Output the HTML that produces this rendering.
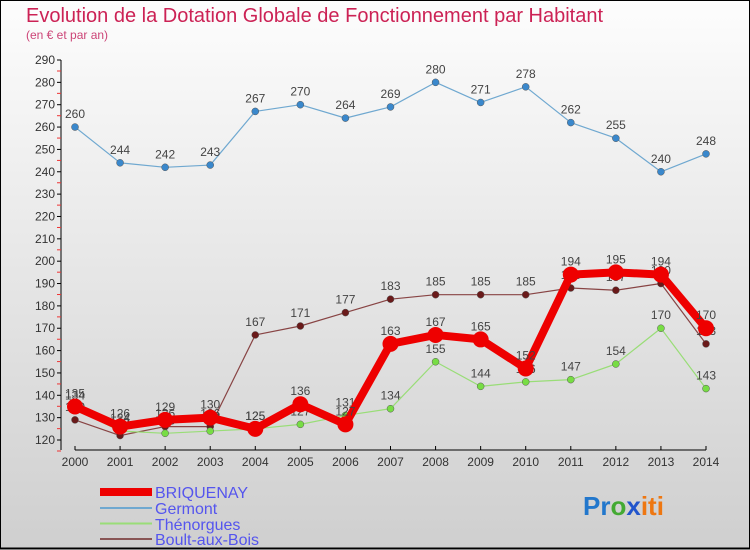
<!DOCTYPE html>
<html><head><meta charset="utf-8"><style>
body{margin:0}
svg{display:block;font-family:"Liberation Sans",sans-serif}
</style></head><body>
<svg id="c" width="750" height="550" viewBox="0 0 750 550" xmlns="http://www.w3.org/2000/svg">
<defs><linearGradient id="bg" x1="0" y1="0" x2="0" y2="1"><stop offset="0" stop-color="#fdfdfd"/><stop offset="1" stop-color="#cfcfcf"/></linearGradient></defs>
<rect x="0.5" y="0.5" width="749" height="548" fill="url(#bg)" stroke="#000"/>
<line x1="0" y1="548.5" x2="750" y2="548.5" stroke="#000" stroke-width="2"/>
<text x="26" y="22" font-size="20" fill="#cc2255">Evolution de la Dotation Globale de Fonctionnement par Habitant</text>
<text x="26" y="39" font-size="12" fill="#cc4477">(en € et par an)</text>
<g id="axes"></g><g id="series"></g>
<g>
<rect x="100" y="488" width="52" height="8" fill="#ee0000"/>
<text x="155" y="498" font-size="16" fill="#5555ee">BRIQUENAY</text>
<line x1="100" y1="508" x2="152" y2="508" stroke="#6fa8d0" stroke-width="2"/>
<text x="155" y="514" font-size="16" fill="#5555ee">Germont</text>
<line x1="100" y1="523.5" x2="152" y2="523.5" stroke="#99dd77" stroke-width="2"/>
<text x="155" y="530" font-size="16" fill="#5555ee">Thénorgues</text>
<line x1="100" y1="539" x2="152" y2="539" stroke="#885555" stroke-width="2"/>
<text x="155" y="545" font-size="16" fill="#5555ee">Boult-aux-Bois</text>
</g>
<text x="583" y="515" font-size="26" font-weight="bold"><tspan fill="#2277cc">Pr</tspan><tspan fill="#44aa33">o</tspan><tspan fill="#2255cc">x</tspan><tspan fill="#ee7711">iti</tspan></text>
</svg>
<script>
const years=[2000,2001,2002,2003,2004,2005,2006,2007,2008,2009,2010,2011,2012,2013,2014];
const yTicks=[120,130,140,150,160,170,180,190,200,210,220,230,240,250,260,270,280,290];
const briquenay=[135,126,129,130,125,136,127,163,167,165,152,194,195,194,170];
const germont=[260,244,242,243,267,270,264,269,280,271,278,262,255,240,248];
const thenorgues=[134,124,123,124,125,127,131,134,155,144,146,147,154,170,143];
const boult=[129,122,126,126,167,171,177,183,185,185,185,188,187,190,163];
const NS="http://www.w3.org/2000/svg";
const X=i=>75+i*(706-75)/(years.length-1);
const Y=v=>440-(v-120)*(380/170);
function mk(t,a,p){const e=document.createElementNS(NS,t);for(const k in a)e.setAttribute(k,a[k]);p.appendChild(e);return e;}
const ax=document.getElementById('axes');
const yl=mk('line',{x1:61,y1:Y(290),x2:61,y2:450,stroke:'#000'},ax);


const xl=mk('line',{x1:75,y1:450,x2:706,y2:450,stroke:'#000'},ax);


yTicks.forEach(v=>{
  mk('line',{x1:57,y1:Y(v),x2:61,y2:Y(v),stroke:'#000'},ax);
  mk('line',{x1:57,y1:Y(v)+11,x2:61,y2:Y(v)+11,stroke:'#e33'},ax);
  const t=mk('text',{x:55,y:Y(v)+4,'font-size':12,'text-anchor':'end',fill:'#333'},ax);
  t.textContent=v;
  
  
});
years.forEach((yr,i)=>{
  mk('line',{x1:X(i),y1:446,x2:X(i),y2:450,stroke:'#000'},ax);
  const t=mk('text',{x:X(i),y:466,'font-size':12,'text-anchor':'middle',fill:'#333'},ax);
  t.textContent=yr;
  
  
});
const sg=document.getElementById('series');
function series(vals,color,w,r,ptFill,name){
  const g=mk('g',{},sg);
  
  
  const p=mk('polyline',{points:vals.map((v,i)=>X(i)+','+Y(v)).join(' '),fill:'none',stroke:color,'stroke-width':w,'stroke-linejoin':'round'},g);
  
  
  vals.forEach((v,i)=>{
    const c=mk('circle',{cx:X(i),cy:Y(v),r:r,fill:ptFill,stroke:'#555','stroke-width':r>6?0:0.5},g);
    
    
    const t=mk('text',{x:X(i),y:Y(v)-9,'font-size':12,'text-anchor':'middle',fill:'#444'},g);
    t.textContent=v;
    
    
  });
}
series(boult,'#884444',1.2,3.5,'#6a1a1a','boult-aux-bois');
series(thenorgues,'#99dd77',1.2,3.5,'#77dd44','thenorgues');
series(germont,'#6fa8d0',1.2,3.5,'#3a88cc','germont');
series(briquenay,'#ee0000',8,8,'#ee0000','briquenay');
</script>
</body></html>
